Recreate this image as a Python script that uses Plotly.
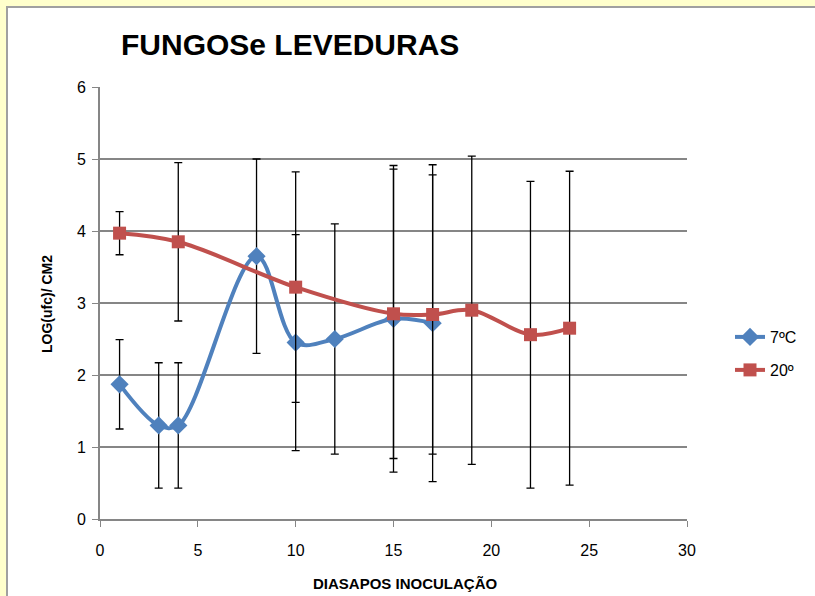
import plotly.graph_objects as go

# Data
x_7c = [1, 3, 4, 8, 10, 12, 15, 17]
y_7c = [1.87, 1.30, 1.30, 3.65, 2.45, 2.50, 2.78, 2.72]
err_7c = [0.62, 0.87, 0.87, 1.35, 1.50, 1.60, 2.13, 2.20]

x_20 = [1, 4, 10, 15, 17, 19, 22, 24]
y_20 = [3.97, 3.85, 3.22, 2.85, 2.84, 2.90, 2.56, 2.65]
err_20 = [0.30, 1.10, 1.60, 2.01, 1.94, 2.14, 2.13, 2.18]

title_text = "FUNGOSe LEVEDURAS"
x_title = "DIASAPOS INOCULAÇÃO"
y_title = "LOG(ufc)/ CM2"
name_7c = "7ºC"
name_20 = "20º"

BLUE = "#4F81BD"
RED = "#C0504D"
FONT = "Liberation Sans, Arial, sans-serif"

fig = go.Figure()
fig.add_trace(go.Scatter(
    x=x_7c, y=y_7c, name=name_7c, mode="lines+markers",
    line=dict(color=BLUE, width=4, shape="spline", smoothing=1.0),
    marker=dict(symbol="diamond", size=14, color=BLUE),
    error_y=dict(type="data", array=err_7c, visible=True, color="black", thickness=1.3, width=4),
    legend="legend",
))
fig.add_trace(go.Scatter(
    x=x_20, y=y_20, name=name_20, mode="lines+markers",
    line=dict(color=RED, width=4, shape="spline", smoothing=1.0),
    marker=dict(symbol="square", size=13, color=RED),
    error_y=dict(type="data", array=err_20, visible=True, color="black", thickness=1.3, width=4),
    legend="legend2",
))

W, H = 815, 596
L, R, T, B = 100, 128, 87, 77
pw, ph = W - L - R, H - T - B

def px_x(p):
    return (p - L) / pw

def px_y(p):
    return (H - B - p) / ph

fig.update_layout(
    width=W, height=H,
    margin=dict(l=L, r=R, t=T, b=B, autoexpand=False),
    paper_bgcolor="#FFFFCC",
    plot_bgcolor="white",
    font=dict(family=FONT, size=14, color="black"),
    showlegend=True,
    shapes=[dict(
        type="rect", xref="paper", yref="paper", layer="below",
        x0=px_x(7), x1=px_x(830), y0=px_y(620), y1=px_y(7),
        fillcolor="white", line=dict(color="#A0A0A0", width=2),
    )],
    annotations=[
        dict(text="<b>" + title_text + "</b>", xref="paper", yref="paper",
             x=px_x(119), y=px_y(44), xanchor="left", yanchor="middle",
             showarrow=False, font=dict(family=FONT, size=30, color="black")),
        dict(text="<b>" + x_title + "</b>", xref="paper", yref="paper",
             x=px_x(405), y=px_y(583), xanchor="center", yanchor="middle",
             showarrow=False, font=dict(family=FONT, size=15, color="black")),
        dict(text="<b>" + y_title + "</b>", xref="paper", yref="paper",
             x=px_x(47), y=px_y(304), xanchor="center", yanchor="middle", textangle=-90,
             showarrow=False, font=dict(family=FONT, size=14, color="black")),
    ],
    xaxis=dict(
        range=[0, 30], tickvals=[0, 5, 10, 15, 20, 25, 30],
        showgrid=False, zeroline=False, automargin=False,
        showline=True, linecolor="#868686", linewidth=2,
        ticks="outside", ticklen=6, tickcolor="#868686", tickwidth=1,
        ticklabelstandoff=10,
        tickfont=dict(size=16),
    ),
    yaxis=dict(
        range=[0, 6], tickvals=[0, 1, 2, 3, 4, 5, 6],
        showgrid=True, gridcolor="#868686", gridwidth=1.5, zeroline=False, automargin=False,
        showline=True, linecolor="#868686", linewidth=2,
        ticks="outside", ticklen=6, tickcolor="#868686", tickwidth=1,
        ticklabelstandoff=3,
        tickfont=dict(size=16),
    ),
    legend=dict(x=px_x(730), y=px_y(337), xanchor="left", yanchor="middle",
                bgcolor="rgba(0,0,0,0)", font=dict(size=16)),
    legend2=dict(x=px_x(730), y=px_y(370), xanchor="left", yanchor="middle",
                 bgcolor="rgba(0,0,0,0)", font=dict(size=16)),
)

fig.write_html(
    "out.html",
    config={"displayModeBar": False},
    post_script="document.body.style.margin='0';document.body.style.padding='0';"
                "document.documentElement.style.overflow='hidden';",
)
